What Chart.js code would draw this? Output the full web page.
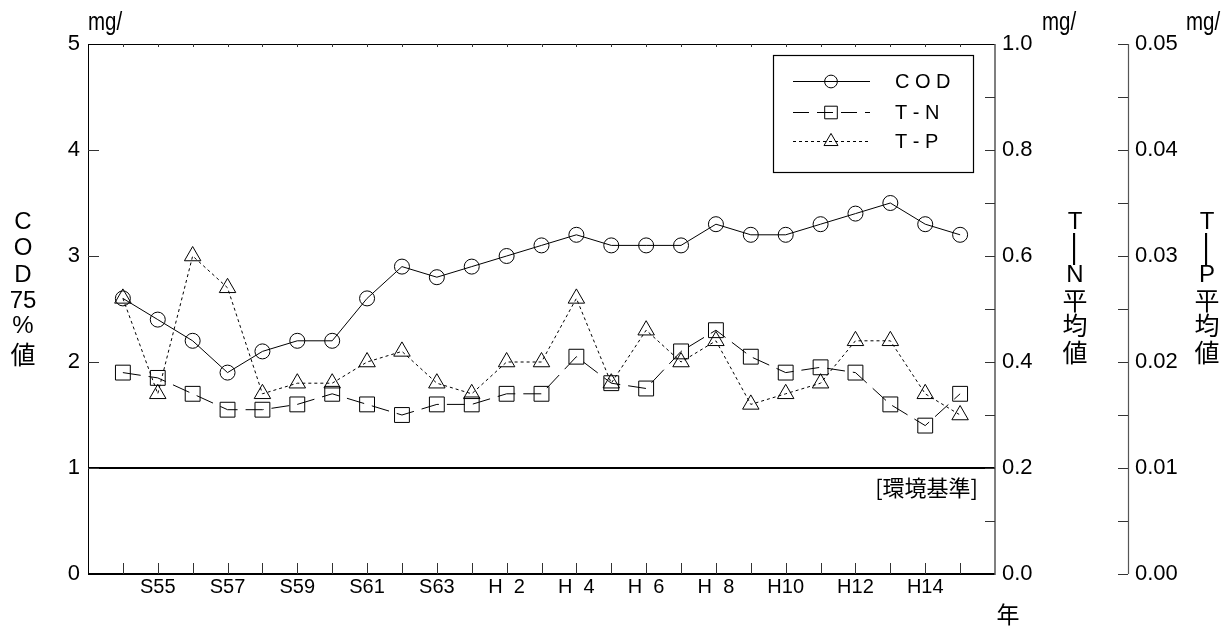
<!DOCTYPE html>
<html>
<head>
<meta charset="utf-8">
<script src="https://cdn.jsdelivr.net/npm/chart.js@4.4.0/dist/chart.umd.min.js"></script>
<style>
  html, body { margin: 0; padding: 0; background: #fff; }
  canvas { display: block; }
</style>
</head>
<body>
<canvas id="c" width="1232" height="628" style="width:1232px;height:628px"></canvas>
<script>
// Survey years (Showa 54 – Heisei 15)
const yearLabels = ['S54','S55','S56','S57','S58','S59','S60','S61','S62','S63',
  'H  1','H  2','H  3','H  4','H  5','H  6','H  7','H  8','H  9','H10','H11','H12','H13','H14','H15'];

// COD 75% value (mg/ℓ)
const codValues = [2.6,2.4,2.2,1.9,2.1,2.2,2.2,2.6,2.9,2.8,2.9,3.0,3.1,3.2,3.1,3.1,3.1,3.3,3.2,3.2,3.3,3.4,3.5,3.3,3.2];
// T-N mean (mg/ℓ)
const tnValues = [0.38,0.37,0.34,0.31,0.31,0.32,0.34,0.32,0.30,0.32,0.32,0.34,0.34,0.41,0.36,0.35,0.42,0.46,0.41,0.38,0.39,0.38,0.32,0.28,0.34];
// T-P mean (mg/ℓ)
const tpValues = [0.026,0.017,0.030,0.027,0.017,0.018,0.018,0.020,0.021,0.018,0.017,0.020,0.020,0.026,0.018,0.023,0.020,0.022,0.016,0.017,0.018,0.022,0.022,0.017,0.015];

// Environmental standard for COD
const codStandard = 1;

const seriesNames = ['C O D', 'T - N', 'T - P'];

const SANS = "'Liberation Sans', Arial, sans-serif";
const NARROW = "'Liberation Sans Narrow', 'Liberation Sans', sans-serif";
const CJK = "'Noto Sans CJK JP', 'Liberation Sans', sans-serif";

const toPoints = vals => vals.map((v, i) => ({ x: i + 1, y: v }));

const datasets = [
  {
    label: seriesNames[0], data: toPoints(codValues), yAxisID: 'y',
    borderColor: '#000', borderWidth: 1, backgroundColor: 'transparent',
    pointStyle: 'circle', pointRadius: 7.5, pointBorderColor: '#000', pointBorderWidth: 1,
    pointBackgroundColor: 'transparent', tension: 0
  },
  {
    label: seriesNames[1], data: toPoints(tnValues), yAxisID: 'yN',
    borderColor: '#000', borderWidth: 1, borderDash: [18, 8], backgroundColor: 'transparent',
    pointStyle: 'rect', pointRadius: 10.5, pointBorderColor: '#000', pointBorderWidth: 1,
    pointBackgroundColor: 'transparent', tension: 0
  },
  {
    label: seriesNames[2], data: toPoints(tpValues), yAxisID: 'yP',
    borderColor: '#000', borderWidth: 1, borderDash: [3, 3], backgroundColor: 'transparent',
    pointStyle: 'triangle', pointRadius: 9.5, pointBorderColor: '#000', pointBorderWidth: 1,
    pointBackgroundColor: 'transparent', tension: 0
  },
  {
    label: '環境基準', data: [{ x: 0, y: codStandard }, { x: yearLabels.length + 1, y: codStandard }],
    yAxisID: 'y', borderColor: '#000', borderWidth: 2, pointRadius: 0, backgroundColor: 'transparent'
  }
];

function seg(ctx, x1, y1, x2, y2) {
  ctx.beginPath(); ctx.moveTo(x1, y1); ctx.lineTo(x2, y2); ctx.stroke();
}

function stacked(ctx, items, x) {
  // items: [text, centerY, rotate?]
  items.forEach(([t, cy, rot]) => {
    ctx.save();
    ctx.translate(x, cy);
    if (rot) ctx.rotate(Math.PI / 2);
    ctx.fillText(t, 0, 0);
    ctx.restore();
  });
}

function condensed(ctx, text, x, y, sx) {
  ctx.save();
  ctx.translate(x, y);
  ctx.scale(sx, 1);
  ctx.fillText(text, 0, 0);
  ctx.restore();
}

const framePlugin = {
  id: 'frame',
  afterDatasetsDraw(chart) {
    const { ctx, chartArea: a, scales } = chart;
    const xs = scales.x, y = scales.y, yN = scales.yN, yP = scales.yP;
    ctx.save();

    // plot frame
    ctx.strokeStyle = '#000';
    ctx.lineWidth = 1;
    seg(ctx, a.left + 0.5, a.top, a.left + 0.5, a.bottom);
    seg(ctx, a.left, a.top + 0.5, a.right, a.top + 0.5);
    ctx.lineWidth = 2;
    seg(ctx, a.left, a.bottom, a.right, a.bottom);
    ctx.strokeStyle = '#555';
    ctx.lineWidth = 1.5;
    seg(ctx, a.right, a.top, a.right, a.bottom + 1);
    ctx.lineWidth = 1.2;
    seg(ctx, yP.left + 0.5, yP.top, yP.left + 0.5, yP.bottom);

    // tick marks
    ctx.strokeStyle = '#333';
    ctx.lineWidth = 1;
    for (let i = 1; i <= yearLabels.length; i++) {
      const px = Math.round(xs.getPixelForValue(i)) + 0.5;
      seg(ctx, px, a.bottom, px, a.bottom - 11);
      seg(ctx, px, a.top, px, a.top + 3);
    }
    for (let v = 1; v < 5; v++) {
      const py = Math.round(y.getPixelForValue(v)) + 0.5;
      seg(ctx, a.left, py, a.left + 11, py);
    }
    for (let k = 1; k < 10; k++) {
      const py = Math.round(yN.getPixelForValue(k / 10)) + 0.5;
      seg(ctx, a.right - 10, py, a.right, py);
    }
    for (let k = 0; k <= 10; k++) {
      const py = Math.round(yP.getPixelForValue(k * 0.005)) + 0.5;
      seg(ctx, yP.left - 10, py, yP.left, py);
    }

    // unit labels
    ctx.fillStyle = '#000';
    ctx.textBaseline = 'alphabetic';
    ctx.textAlign = 'left';
    ctx.font = '25px ' + SANS;
    condensed(ctx, 'mg/', a.left, 30, 0.82);
    condensed(ctx, 'mg/', 1042, 30, 0.82);
    condensed(ctx, 'mg/', 1186, 30, 0.82);

    // axis titles (vertical)
    ctx.textAlign = 'center';
    ctx.textBaseline = 'middle';
    ctx.font = '24px ' + SANS;
    stacked(ctx, [['C', 222], ['O', 248], ['D', 275], ['75', 301], ['%', 326]], 23);
    ctx.font = '25px ' + CJK;
    stacked(ctx, [['値', 354]], 23);

    ctx.font = '24px ' + SANS;
    stacked(ctx, [['T', 222], ['N', 275]], 1075);
    stacked(ctx, [['T', 222], ['P', 275]], 1207);
    ctx.font = '32px ' + SANS;
    stacked(ctx, [['—', 249, true]], 1075);
    stacked(ctx, [['—', 249, true]], 1207);
    ctx.font = '25px ' + CJK;
    stacked(ctx, [['平', 300], ['均', 325], ['値', 352]], 1075);
    stacked(ctx, [['平', 300], ['均', 325], ['値', 352]], 1207);

    // x axis title
    ctx.font = '23px ' + CJK;
    ctx.fillText('年', 1008, 614);

    // standard label
    ctx.textAlign = 'right';
    ctx.font = '22px ' + CJK;
    ctx.fillText('[環境基準]', 978, y.getPixelForValue(codStandard) + 20);

    // legend
    const lx = 773, ly = 55, lw = 200, lh = 117;
    ctx.strokeStyle = '#000';
    ctx.lineWidth = 1.2;
    ctx.strokeRect(lx + 0.5, ly + 0.5, lw, lh);
    const rows = [81, 112, 141];
    ctx.textAlign = 'left';
    for (let i = 0; i < 3; i++) {
      const ds = chart.data.datasets[i];
      const ry = rows[i] + 0.5;
      ctx.save();
      ctx.lineWidth = 1;
      ctx.strokeStyle = '#000';
      ctx.setLineDash(i === 1 ? [16, 8] : (ds.borderDash || []));
      seg(ctx, 793, ry, 870, ry);
      ctx.restore();
      ctx.save();
      ctx.fillStyle = 'rgba(0,0,0,0)';
      ctx.strokeStyle = '#000';
      ctx.lineWidth = 1;
      Chart.helpers.drawPoint(ctx, {
        pointStyle: ds.pointStyle, radius: ds.pointRadius * 0.85, borderWidth: 1, rotation: 0
      }, 831, ry);
      ctx.restore();
      ctx.fillStyle = '#000';
      ctx.textBaseline = 'middle';
      ctx.font = '20px ' + SANS;
      ctx.fillText(ds.label, 895, rows[i] + 1);
    }
    ctx.restore();
  }
};

const chart = new Chart(document.getElementById('c'), {
  type: 'line',
  data: { datasets },
  options: {
    responsive: false,
    animation: false,
    events: [],
    layout: { padding: { top: 44, left: 0, right: 0, bottom: 0 } },
    plugins: { legend: { display: false }, tooltip: { enabled: false } },
    scales: {
      x: {
        type: 'linear', position: 'bottom', min: 0, max: yearLabels.length + 1,
        grid: { display: false, drawTicks: false }, border: { display: false },
        ticks: {
          stepSize: 1, autoSkip: false, maxRotation: 0, padding: 1,
          color: '#000', font: { family: NARROW, size: 20 },
          callback: v => (v >= 1 && v <= yearLabels.length && v % 2 === 0) ? yearLabels[v - 1] : ''
        },
        afterFit: s => { s.height = 54; }
      },
      y: {
        position: 'left', min: 0, max: 5,
        grid: { display: false, drawTicks: false }, border: { display: false },
        ticks: { stepSize: 1, padding: 8, color: '#000', font: { family: SANS, size: 22 } },
        afterFit: s => { s.width = 88; }
      },
      yN: {
        position: 'right', weight: 0, min: 0, max: 1,
        grid: { display: false, drawTicks: false }, border: { display: false },
        ticks: { stepSize: 0.2, padding: 7, color: '#000', font: { family: SANS, size: 22 },
          callback: v => Number(v).toFixed(1) },
        afterFit: s => { s.width = 133; }
      },
      yP: {
        position: 'right', weight: 1, min: 0, max: 0.05,
        grid: { display: false, drawTicks: false }, border: { display: false },
        ticks: { stepSize: 0.01, padding: 7, color: '#000', font: { family: SANS, size: 22 },
          callback: v => Number(v).toFixed(2) },
        afterFit: s => { s.width = 104; }
      }
    }
  },
  plugins: [framePlugin]
});
</script>
</body>
</html>
